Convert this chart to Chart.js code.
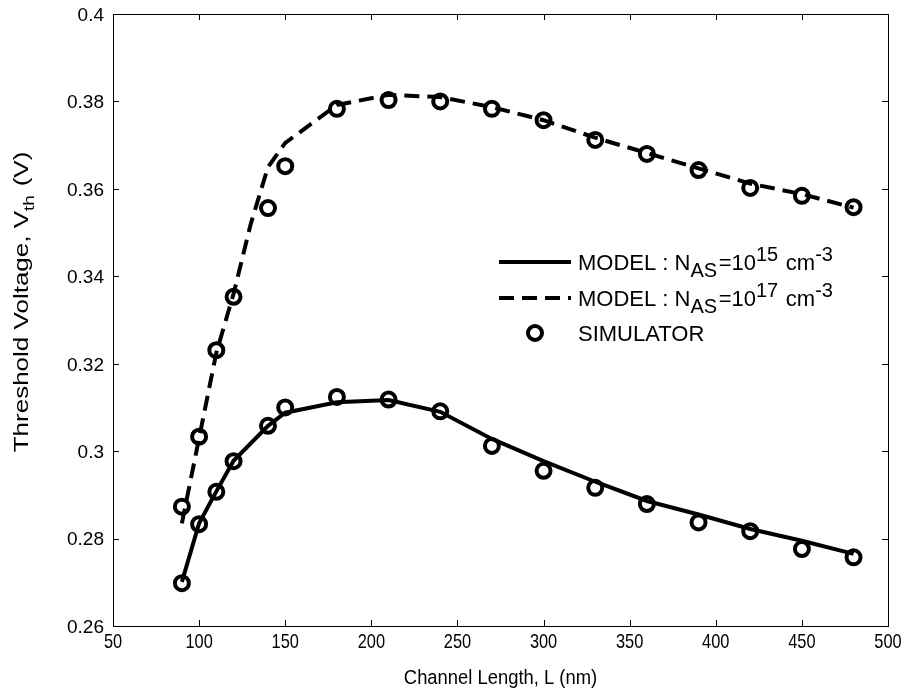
<!DOCTYPE html>
<html>
<head>
<meta charset="utf-8">
<script src="https://cdn.jsdelivr.net/npm/chart.js@4.4.1/dist/chart.umd.min.js"></script>
<style>
html,body{margin:0;padding:0;background:#fff;}
#wrap{width:913px;height:696px;position:relative;}
</style>
</head>
<body>
<div id="wrap"><canvas id="c" width="913" height="696"></canvas></div>
<script>
// ---- data ----
const lengthsSim = [90,100,110,120,140,150,180,210,240,270,300,330,360,390,420,450,480];
const simN15 = [0.2698,0.2833,0.2907,0.2977,0.3058,0.3100,0.3124,0.3118,0.3091,0.3012,0.2955,0.2916,0.2879,0.2837,0.2817,0.2776,0.2757];
const simN17 = [0.2873,0.3033,0.3231,0.3353,0.3556,0.3652,0.3783,0.3803,0.3800,0.3783,0.3757,0.3712,0.3680,0.3643,0.3602,0.3584,0.3558];
const lengthsModel15 = [90,100,110,120,140,150,180,210,240,270,300,330,360,390,420,450,480];
const modelN15 = [0.2701,0.2835,0.2908,0.2978,0.3058,0.3088,0.3112,0.3117,0.3090,0.3028,0.2977,0.2930,0.2886,0.2855,0.2822,0.2795,0.2765];
const lengthsModel17 = [90,100,110,120,130,140,150,180,210,240,270,300,330,360,390,420,450,480];
const modelN17 = [0.2835,0.3030,0.3225,0.3360,0.3520,0.3650,0.3705,0.3792,0.3815,0.3810,0.3787,0.3757,0.3717,0.3682,0.3647,0.3612,0.3588,0.3557];
const xTicks = [50,100,150,200,250,300,350,400,450,500];
const yTicks = [0.26,0.28,0.3,0.32,0.34,0.36,0.38,0.4];
const xTitleText = 'Channel Length, L (nm)';
const yTitleParts = [['Threshold Voltage, V', 0], ['th', 1], [' (V)', 0]];
const legendParts = [
  [['MODEL : N', 0], ['AS', 1], ['=10', 0], ['15', 2], [' cm', 0], ['-3', 2]],
  [['MODEL : N', 0], ['AS', 1], ['=10', 0], ['17', 2], [' cm', 0], ['-3', 2]],
  [['SIMULATOR', 0]]
];

const FAM = '"Liberation Sans", Arial, sans-serif';
const pts = (xs, ys) => xs.map((x, i) => ({x: x, y: ys[i]}));

// rich text: kinds 0 normal, 1 subscript, 2 superscript
function drawRich(ctx, parts, x, y, o) {
  const F = o.size, FS = o.sub || Math.round(F * 0.82);
  const sq = o.squeeze || 1;
  const items = parts.map(([t, k]) => {
    ctx.font = ((k === 1 || k === 2) ? FS : F) + 'px ' + FAM;
    let w = ctx.measureText(t).width;
    if (k === 1 || k === 2) w += 1.5;
    return {t, k, w};
  });
  const total = items.reduce((s, it) => s + it.w, 0);
  ctx.save();
  ctx.translate(x, y);
  if (o.rot) { ctx.rotate(-Math.PI / 2); ctx.scale(1, sq); } else ctx.scale(sq, 1);
  let cx = o.align === 'center' ? -total / 2 : (o.align === 'right' ? -total : 0);
  ctx.textAlign = 'left'; ctx.textBaseline = 'alphabetic';
  const base = F * 0.36;
  items.forEach(it => {
    ctx.font = ((it.k === 1 || it.k === 2) ? FS : F) + 'px ' + FAM;
    const dy = it.k === 1 ? base + F * 0.3 : (it.k === 2 ? base - F * 0.42 : base);
    ctx.fillText(it.t, cx, dy);
    cx += it.w;
  });
  ctx.restore();
}

const decor = {
  id: 'decor',
  afterDraw(chart) {
    const ctx = chart.ctx, a = chart.chartArea;
    const xs = chart.scales.x, ys = chart.scales.y;
    ctx.save();
    ctx.strokeStyle = '#000'; ctx.lineWidth = 1;
    ctx.strokeRect(Math.round(a.left) + 0.5, Math.round(a.top) + 0.5, Math.round(a.right - a.left), Math.round(a.bottom - a.top));
    ctx.beginPath();
    xTicks.forEach(v => {
      const px = Math.round(xs.getPixelForValue(v)) + 0.5;
      ctx.moveTo(px, a.bottom); ctx.lineTo(px, a.bottom - 6);
      ctx.moveTo(px, a.top); ctx.lineTo(px, a.top + 6);
    });
    yTicks.forEach(v => {
      const py = Math.round(ys.getPixelForValue(v)) + 0.5;
      ctx.moveTo(a.left, py); ctx.lineTo(a.left + 6, py);
      ctx.moveTo(a.right, py); ctx.lineTo(a.right - 6, py);
    });
    ctx.stroke();
    ctx.fillStyle = '#000';

    xTicks.forEach(v => drawRich(ctx, [[String(v), 0]], xs.getPixelForValue(v), a.bottom + 14, {size: 21, squeeze: 0.78, align: 'center'}));
    yTicks.forEach(v => drawRich(ctx, [[String(Number(v.toFixed(2))), 0]], a.left - 9, ys.getPixelForValue(v), {size: 19, align: 'right'}));
    drawRich(ctx, [[xTitleText, 0]], (a.left + a.right) / 2, a.bottom + 51, {size: 20, squeeze: 0.92, align: 'center'});
    drawRich(ctx, yTitleParts, 21, 302, {size: 26, sub: 19, squeeze: 0.78, align: 'center', rot: true});

    // legend
    const rowY = [262, 298, 333];
    legendParts.forEach((parts, i) => {
      const d = chart.data.datasets[i];
      const y = rowY[i];
      ctx.save();
      if (i < 2) {
        ctx.strokeStyle = d.borderColor; ctx.lineWidth = d.borderWidth;
        ctx.setLineDash(d.borderDash || []);
        ctx.beginPath(); ctx.moveTo(499, y); ctx.lineTo(571, y); ctx.stroke();
      } else {
        ctx.strokeStyle = d.pointBorderColor; ctx.lineWidth = d.pointBorderWidth;
        ctx.beginPath(); ctx.arc(535, y, d.pointRadius, 0, Math.PI * 2); ctx.stroke();
      }
      ctx.restore();
      drawRich(ctx, parts, 578, y, {size: 22, sub: 20, align: 'left'});
    });
    ctx.restore();
  }
};

new Chart(document.getElementById('c'), {
  type: 'line',
  data: {
    datasets: [
      {label: 'MODEL : N_AS=10^15 cm^-3', data: pts(lengthsModel15, modelN15), borderColor: '#000', borderWidth: 4, pointRadius: 0, tension: 0, fill: false, order: 2},
      {label: 'MODEL : N_AS=10^17 cm^-3', data: pts(lengthsModel17, modelN17), borderColor: '#000', borderWidth: 4, borderDash: [15, 8], pointRadius: 0, tension: 0, fill: false, order: 2},
      {label: 'SIMULATOR', data: pts(lengthsSim, simN17), showLine: false, pointRadius: 7, pointBorderWidth: 4, pointBorderColor: '#000', pointBackgroundColor: 'rgba(0,0,0,0)', borderColor: '#000', order: 1},
      {label: 'SIMULATOR 15', data: pts(lengthsSim, simN15), showLine: false, pointRadius: 7, pointBorderWidth: 4, pointBorderColor: '#000', pointBackgroundColor: 'rgba(0,0,0,0)', borderColor: '#000', order: 1}
    ]
  },
  options: {
    responsive: false,
    animation: false,
    devicePixelRatio: 1,
    layout: {padding: {top: 14, right: 25, left: 0, bottom: 0}},
    plugins: {legend: {display: false}, tooltip: {enabled: false}},
    scales: {
      x: {
        type: 'linear', min: 50, max: 500,
        afterBuildTicks: s => { s.ticks = xTicks.map(v => ({value: v})); },
        afterFit: s => { s.height = 70; },
        grid: {display: false, drawTicks: false},
        border: {display: false},
        ticks: {display: false}
      },
      y: {
        type: 'linear', min: 0.26, max: 0.4,
        afterBuildTicks: s => { s.ticks = yTicks.map(v => ({value: v})); },
        afterFit: s => { s.width = 113; },
        grid: {display: false, drawTicks: false},
        border: {display: false},
        ticks: {display: false}
      }
    }
  },
  plugins: [decor]
});
</script>
</body>
</html>
